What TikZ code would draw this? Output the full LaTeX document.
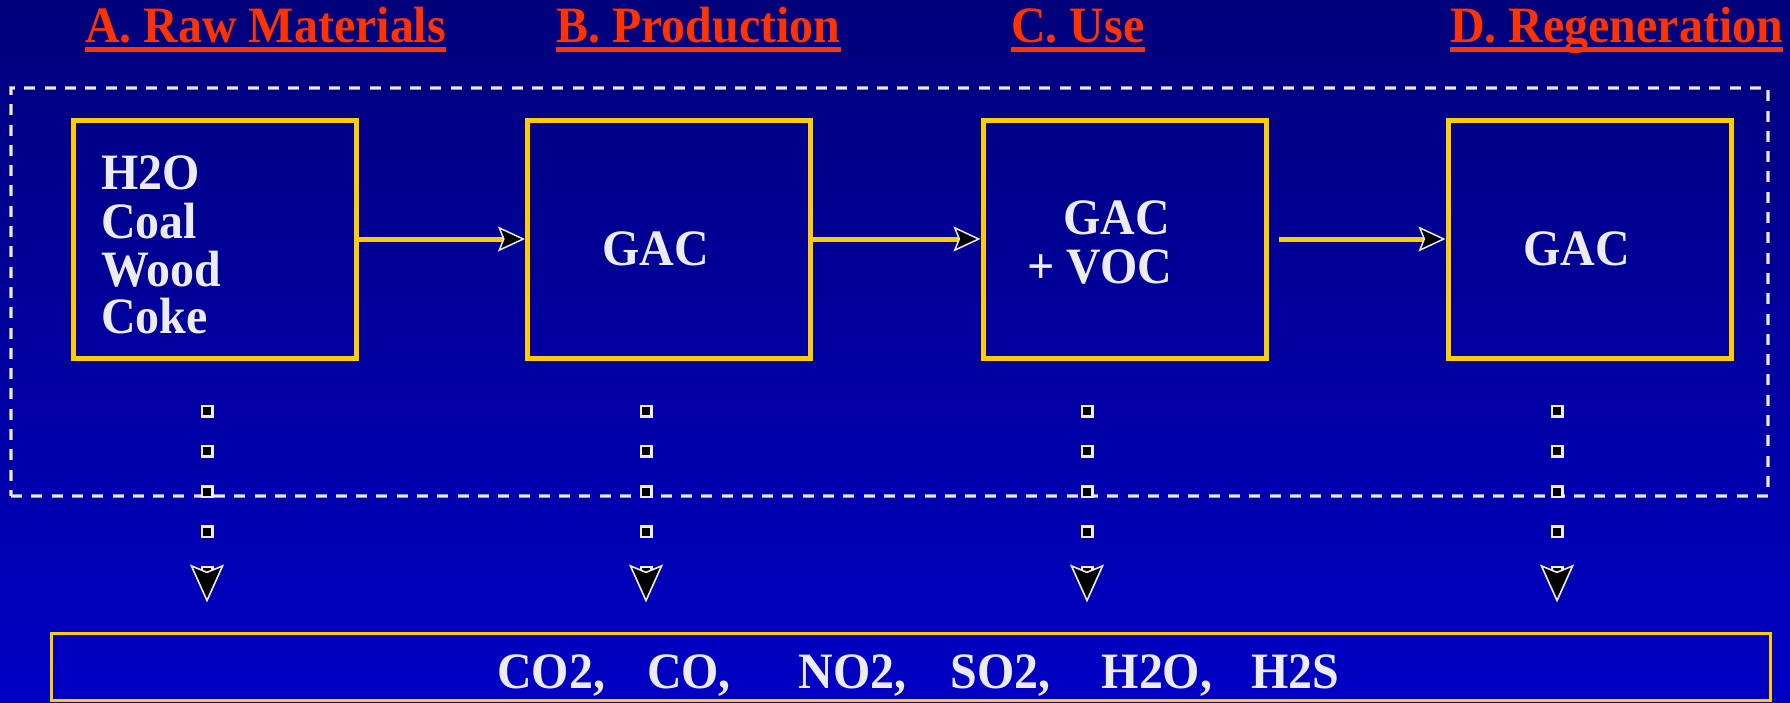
\documentclass[tikz,border=0pt]{standalone}
\usepackage{fontspec}
\setmainfont{Liberation Serif}
\newfontfamily\tnr[FakeStretch=0.94]{Liberation Serif}
\usetikzlibrary{arrows.meta,calc}
\definecolor{gold}{RGB}{255,204,0}
\definecolor{hred}{RGB}{255,51,0}
\definecolor{txtw}{RGB}{236,236,240}
\definecolor{bgtop}{RGB}{0,0,122}
\definecolor{bgbot}{RGB}{0,0,196}
\definecolor{dashgray}{RGB}{150,150,175}
\begin{document}
\begin{tikzpicture}[x=1pt,y=-1pt,
  box/.style={draw=gold, line width=5pt, minimum width=283pt, minimum height=238pt, inner sep=0pt},
  bigtxt/.style={text=txtw, font=\tnr\fontsize{51}{51}\selectfont\bfseries, inner sep=0pt, anchor=base west},
  head/.style={text=hred, font=\tnr\fontsize{51}{51}\selectfont\bfseries, inner sep=0pt, anchor=base west},
  uline/.style={draw=hred, line width=4.5pt},
  tipw/.tip={Stealth[length=27pt,width=25pt,inset=5pt,fill=black,color=txtw,line width=1.5pt]},
  tipv/.tip={Stealth[length=38pt,width=34pt,inset=7pt,fill=black,color=txtw,line width=1.6pt]},
  flow/.style={draw=gold, line width=5pt, -tipw},
  dotout/.style={draw=txtw, line width=13pt, dash pattern=on 13pt off 27.3pt, shorten >=55pt},
  dotin/.style={draw=black, line width=8pt, dash pattern=on 8pt off 32.3pt, dash phase=37.8pt, shorten >=29pt, -tipv},
  framebox/.style={draw=dashgray, double=txtw, double distance=2pt, line width=1.2pt, dash pattern=on 11pt off 9.3pt, minimum width=1757pt, minimum height=408pt, inner sep=0pt},
  botbox/.style={draw=gold, line width=3pt, minimum width=1719.5pt, minimum height=67.5pt, inner sep=0pt}
]
\useasboundingbox (0,0) rectangle (1790,702);
\shade[top color=bgtop, bottom color=bgbot] (0,0) rectangle (1790,702);

% headings
\node[head] (hA) at (85,42) {A. Raw Materials};
\node[head] (hB) at (556,42) {B. Production};
\node[head] (hC) at (1011,42) {C. Use};
\node[head] (hD) at (1450,42) {D. Regeneration};
\foreach \h in {hA,hB,hC,hD}
  \draw[uline] ($(\h.base west)+(0,7.5)$) -- ($(\h.base east)+(0,7.5)$);

% dashed frame
\node[framebox] (frame) at (889.5,292) {};

% process boxes
\node[box] (A) at (214.5,239) {};
\node[box] (B) at (669,239) {};
\node[box] (C) at (1124.5,239) {};
\node[box] (D) at (1589.5,239) {};

% box texts
\node[bigtxt] (a1) at (101,189) {H2O};
\node[bigtxt] (a2) at (101,238) {Coal};
\node[bigtxt] (a3) at (101,286) {Wood};
\node[bigtxt] (a4) at (101,333) {Coke};
\node[bigtxt] (b1) at (602,265) {GAC};
\node[bigtxt] (c1) at (1063,234) {GAC};
\node[bigtxt] (c2) at (1027,283) {+ VOC};
\node[bigtxt] (d1) at (1523,265) {GAC};

% flow arrows
\draw[flow] (A.east) -- (B.west);
\draw[flow] (B.east) -- (C.west);
\draw[flow, shorten <=10pt] (C.east) -- (D.west);

% bottom box
\node[botbox] (bot) at (910.75,666.75) {};
\node[bigtxt] (gases) at (497,688) {CO2,\hspace{42pt}CO,\hspace{68pt}NO2,\hspace{44pt}SO2,\hspace{51pt}H2O,\hspace{39pt}H2S};

% dotted emission connectors
\coordinate (vA) at (207,404.5);
\coordinate (vB) at (646,404.5);
\coordinate (vC) at (1087,404.5);
\coordinate (vD) at (1557,404.5);
\foreach \v in {vA,vB,vC,vD} {
  \draw[dotout] (\v) -- (\v |- bot.north);
  \draw[dotin] (\v) -- (\v |- bot.north);
}
\end{tikzpicture}
\end{document}
